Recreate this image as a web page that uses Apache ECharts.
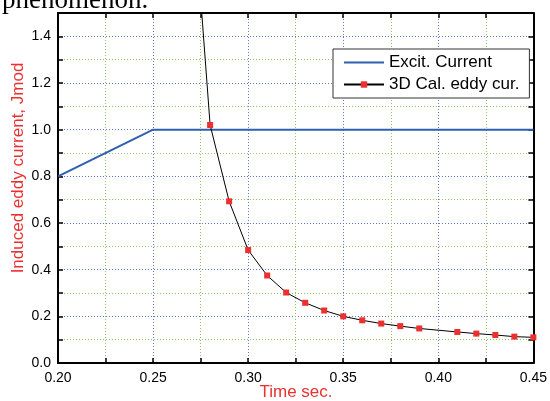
<!DOCTYPE html>
<html lang="en">
<head>
    <meta charset="UTF-8">
    <title>Eddy current</title>
    <script type="text/javascript" src="https://cdn.jsdelivr.net/npm/echarts@6/dist/echarts.min.js"></script>
</head>
<body style="margin:0">
<div id="main" style="width: 550px;height:401px;"></div>

<script type="text/javascript">
    // excitation current (Jmod)
    var excitTime = [0.20, 0.25, 0.45];
    var excitValue = [0.80, 1.00, 1.00];

    // 3D calculated eddy current, 0.40 has no point in the picture
    var eddyTime = [0.27, 0.28, 0.29, 0.30, 0.31, 0.32, 0.33, 0.34, 0.35, 0.36, 0.37, 0.38, 0.39, 0.41, 0.42, 0.43, 0.44, 0.45];
    var eddyValue = [2.11, 1.02, 0.693, 0.484, 0.375, 0.302, 0.258, 0.225, 0.200, 0.183, 0.169, 0.158, 0.148, 0.133, 0.126, 0.120, 0.113, 0.110];

    var seriesNames = ['Excit. Current', '3D Cal. eddy cur.'];

    function pairs(xs, ys) {
        var out = [];
        for (var i = 0; i < xs.length; i++) out.push([xs[i], ys[i]]);
        return out;
    }

    var gridBlue = '#5a7cc8';
    var gridGreen = '#8cc46c';
    var red = '#ec2f2f';
    var font = 'Liberation Sans, Arial, sans-serif';

    function xAxisOf(pos) {
        return {
            type: 'value', position: pos, min: 0.2, max: 0.45, interval: 0.025,
            axisLine: {show: true, onZero: false, lineStyle: {color: '#000', width: 2}},
            axisTick: {show: true, inside: true, length: 5, lineStyle: {color: '#000', width: 1.5}},
            axisLabel: {
                show: pos === 'bottom', color: '#000', fontSize: 14, fontFamily: font, margin: 8,
                formatter: function (v) { return Math.round(v / 0.025) % 2 === 0 ? v.toFixed(2) : ''; }
            },
            splitLine: {show: pos === 'bottom', lineStyle: {type: [1, 2], width: 1, color: [gridBlue, gridGreen]}}
        };
    }

    function yAxisOf(pos) {
        return {
            type: 'value', position: pos, min: 0, max: 1.5, interval: 0.1,
            axisLine: {show: true, onZero: false, lineStyle: {color: '#000', width: 2}},
            axisTick: {show: true, inside: true, length: 5, lineStyle: {color: '#000', width: 1.5}},
            axisLabel: {
                show: pos === 'left', color: '#000', fontSize: 14, fontFamily: font, margin: 7,
                formatter: function (v) { return Math.round(v * 10) % 2 === 0 ? v.toFixed(1) : ''; }
            },
            splitLine: {show: pos === 'left', lineStyle: {type: [1, 2], width: 1, color: [gridBlue, gridGreen]}}
        };
    }

    var myChart = echarts.init(document.getElementById('main'));
    var option = {
        backgroundColor: '#fff',
        animation: false,
        grid: {left: 58, right: 15, top: 13, bottom: 38},
        legend: {
            orient: 'vertical', left: 333, top: 49,
            backgroundColor: '#fff', borderColor: '#333', borderWidth: 1,
            padding: [5, 10, 5, 10], itemGap: 5, itemWidth: 40, itemHeight: 8,
            textStyle: {color: '#000', fontSize: 17, fontFamily: font},
            data: [
                {name: seriesNames[0], itemStyle: {color: 'rgba(0,0,0,0)', borderWidth: 0, opacity: 0}},
                {name: seriesNames[1]}
            ]
        },
        xAxis: [xAxisOf('bottom'), xAxisOf('top')],
        yAxis: [yAxisOf('left'), yAxisOf('right')],
        graphic: [
            {
                type: 'text', x: 2, y: 14,
                style: {text: 'phenomenon.', fontSize: 27, fontFamily: '"Liberation Serif", "Times New Roman", serif', fill: '#000', align: 'left', verticalAlign: 'bottom'}
            },
            {
                type: 'text', x: 18, y: 168, rotation: Math.PI / 2,
                style: {text: 'Induced eddy current, Jmod', fontSize: 17, fontFamily: font, fill: red, align: 'center', verticalAlign: 'middle'}
            },
            {
                type: 'text', x: 296, y: 392,
                style: {text: 'Time sec.', fontSize: 17, fontFamily: font, fill: red, align: 'center', verticalAlign: 'middle'}
            }
        ],
        series: [
            {
                name: seriesNames[0], type: 'line', data: pairs(excitTime, excitValue),
                showSymbol: false, symbol: 'none',
                lineStyle: {color: '#2f5fae', width: 2}, itemStyle: {color: '#2f5fae'}
            },
            {
                name: seriesNames[1], type: 'line', data: pairs(eddyTime, eddyValue),
                clip: true, symbol: 'rect', symbolSize: 6,
                lineStyle: {color: '#000', width: 1}, itemStyle: {color: red}
            }
        ]
    };
    myChart.setOption(option);
</script>
</body>
</html>
